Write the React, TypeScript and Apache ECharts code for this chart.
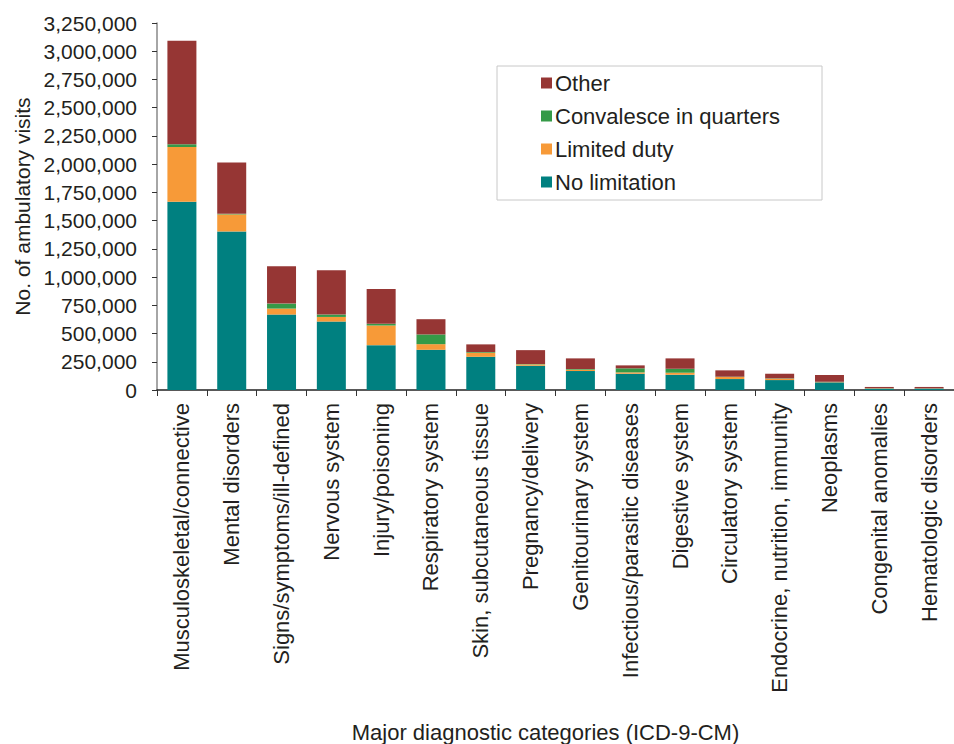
import React, { useEffect, useRef } from "react";
import * as echarts from "echarts";

const categories = [
  "Musculoskeletal/connective",
  "Mental disorders",
  "Signs/symptoms/ill-defined",
  "Nervous system",
  "Injury/poisoning",
  "Respiratory system",
  "Skin, subcutaneous tissue",
  "Pregnancy/delivery",
  "Genitourinary system",
  "Infectious/parasitic diseases",
  "Digestive system",
  "Circulatory system",
  "Endocrine, nutrition, immunity",
  "Neoplasms",
  "Congenital anomalies",
  "Hematologic disorders",
];

const noLimitation = [1666000, 1404000, 668000, 606000, 397000, 356000, 294000, 215000, 168000, 144000, 135000, 97000, 88000, 68000, 12000, 12000];
const limitedDuty = [486000, 151000, 53000, 41000, 174000, 50000, 36000, 12000, 12000, 12000, 18000, 18000, 12000, 3000, 3000, 2000];
const convalesce = [24000, 5000, 44000, 21000, 15000, 86000, 6000, 3000, 6000, 36000, 35000, 3000, 3000, 2000, 1000, 1000];
const other = [916000, 454000, 330000, 392000, 309000, 135000, 68000, 123000, 94000, 26000, 92000, 56000, 41000, 60000, 11000, 12000];

const seriesNames = ["No limitation", "Limited duty", "Convalesce in quarters", "Other"];
const legendOrder = ["Other", "Convalesce in quarters", "Limited duty", "No limitation"];
const colors = ["#008080", "#F79A38", "#359A47", "#963634"];

const FONT = "'Liberation Sans', Arial, Helvetica, sans-serif";
const TEXT = "#231F20";

export default function App() {
  const ref = useRef<HTMLDivElement>(null);
  useEffect(() => {
    if (!ref.current) return;
    const chart = echarts.init(ref.current, undefined, { renderer: "svg" });
    const values = [noLimitation, limitedDuty, convalesce, other];
    chart.setOption({
      animation: false,
      textStyle: { fontFamily: FONT },
      grid: { left: 157, top: 23, width: 800, height: 368, containLabel: false },
      legend: {
        data: legendOrder,
        orient: "vertical",
        left: 497,
        top: 66,
        padding: [6, 42, 7, 44],
        itemWidth: 11,
        itemHeight: 11,
        itemGap: 11,
        borderColor: "#C8C8C8",
        borderWidth: 1,
        icon: "rect",
        textStyle: { fontSize: 22, color: TEXT, fontFamily: FONT, padding: [0, 0, 0, -2] },
      },
      xAxis: {
        type: "category",
        data: categories,
        name: "Major diagnostic categories (ICD-9-CM)",
        nameLocation: "middle",
        nameGap: 331,
        nameTextStyle: { fontSize: 22, color: TEXT, fontFamily: FONT, padding: [0, 20, 0, 0] },
        axisLine: { lineStyle: { color: "#222", width: 1.5 } },
        axisTick: { show: true, alignWithLabel: false, length: 6, lineStyle: { color: "#333" } },
        axisLabel: { rotate: 90, interval: 0, fontSize: 22, color: TEXT, margin: 13, fontFamily: FONT },
      },
      yAxis: {
        type: "value",
        min: 0,
        max: 3250000,
        interval: 250000,
        name: "No. of ambulatory visits",
        nameLocation: "middle",
        nameGap: 124,
        nameTextStyle: { fontSize: 21, color: TEXT, fontFamily: FONT },
        axisLine: { show: true, lineStyle: { color: "#888", width: 1.5 } },
        axisTick: { show: true, length: 5, lineStyle: { color: "#333" } },
        splitLine: { show: false },
        axisLabel: {
          fontSize: 21,
          color: TEXT,
          margin: 20,
          fontFamily: FONT,
          formatter: (v: number) => v.toLocaleString("en-US"),
        },
      },
      series: seriesNames.map((name, i) => ({
        name,
        type: "bar",
        stack: "total",
        barWidth: 29,
        data: values[i],
        itemStyle: { color: colors[i] },
      })),
    });
    return () => chart.dispose();
  }, []);
  return (
    <div style={{ position: "absolute", left: 0, top: 0, width: 954, height: 744, overflow: "hidden", background: "#fff" }}>
      <div ref={ref} style={{ width: 954, height: 744 }} />
    </div>
  );
}
